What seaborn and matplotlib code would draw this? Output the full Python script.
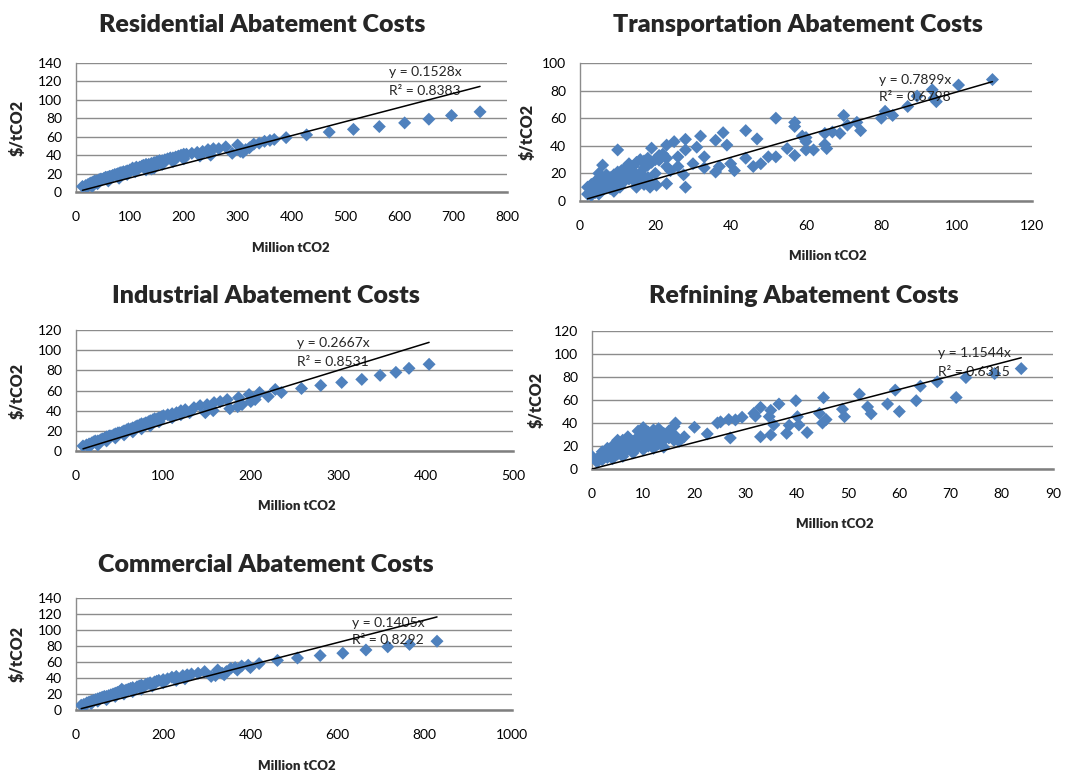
import matplotlib
matplotlib.use("Agg")
import matplotlib.pyplot as plt
import seaborn as sns
import pandas as pd

sns.set_style("white")
plt.rcParams["font.family"] = ["Lato", "DejaVu Sans"]

# ---- Residential ----
res_x = [12, 18, 22, 25, 28, 32, 35, 38, 42, 45, 48, 52, 55, 58, 62, 65, 68, 72, 75, 78,
         82, 85, 88, 92, 95, 100, 105, 108, 112, 118, 122, 125, 130, 135, 140, 145, 150,
         155, 160, 165, 170, 175, 180, 185, 190, 195, 200, 205, 215, 225, 235, 245, 255,
         265, 278, 290, 300, 305, 315, 322, 330, 340, 350, 360, 368, 390, 428, 470, 515,
         563, 610, 655, 697, 750,
         20, 30, 40, 60, 80, 95, 110, 130, 145, 160, 180, 200, 230, 250, 310, 140, 90]
res_y = [6, 7, 8, 9, 10, 11, 12, 12, 13, 14, 14, 15, 16, 16, 17, 17, 18, 19, 19, 20,
         21, 21, 22, 22, 23, 24, 26, 25, 27, 27, 28, 29, 30, 30, 31, 32, 33,
         34, 34, 35, 36, 37, 37, 38, 39, 40, 41, 41, 42, 43, 44, 46, 47,
         47, 49, 42, 51, 44, 46, 48, 52, 53, 55, 56, 57, 59, 62, 65, 68,
         71, 75, 79, 83, 87,
         5, 6, 9, 12, 15, 19, 22, 24, 26, 30, 33, 36, 39, 40, 43, 25, 20]
res_slope, res_r2 = 0.1528, 0.8383

# ---- Transportation ----
tra_x = [10, 6, 52, 57, 57, 57, 55, 70, 44, 47, 38, 39, 36, 36, 32, 31, 33, 33, 25, 28,
         28, 28, 23, 23, 21, 23, 19, 26, 26, 27.5, 30, 37, 40, 41, 44, 46, 48, 50, 52,
         59, 60, 60, 62, 60, 65, 65, 65.5, 67, 69, 71, 73.5, 74.5, 80, 81, 83, 87, 89.5,
         93.5, 94, 94.6, 100.5, 109.5, 14.6, 16.8, 18.6, 20.3, 10.6,
         2, 2, 3, 3, 4, 4, 5, 5, 5, 6, 6, 6, 7, 7, 7, 8, 8, 9, 9, 10, 10, 10, 11, 11,
         12, 12, 12, 13, 13, 14, 14, 15, 15, 16, 16, 17, 17, 18, 18, 19, 20, 20, 21, 22,
         3, 4, 5, 8, 9, 13, 15, 17, 19, 23, 24, 18, 16]
tra_y = [37, 26, 60, 57, 54, 33, 38, 62, 51, 45, 49.5, 40.5, 44, 21, 47, 39, 32, 24, 43, 44.7,
         37, 10, 40.5, 31, 29.6, 12.6, 38.3, 32, 25, 19, 27, 25, 27, 22, 31, 25, 27, 32, 32,
         47, 43, 37, 37, 46, 49, 41, 38, 50, 49, 55, 57, 51, 60, 65, 62, 68.5, 76,
         80.6, 74.5, 72, 84, 88, 13.8, 17.5, 10, 11.4, 10,
         5, 10, 7, 12, 9, 14, 11, 16, 20, 8, 13, 17, 10, 15, 19, 12, 17, 14, 19, 12, 16, 21, 18, 22,
         15, 20, 24, 19, 27, 22, 25, 18, 28, 20, 30, 24, 29, 26, 31, 28, 30, 20, 33, 34,
         4, 6, 5, 9, 7, 16, 10, 12, 13, 25, 22, 17, 14]
tra_slope, tra_r2 = 0.7899, 0.6798

# ---- Industrial ----
ind_x = [8, 12, 15, 18, 20, 22, 25, 28, 30, 33, 35, 38, 40, 43, 45, 48, 50, 53, 55, 58,
         60, 63, 65, 68, 70, 73, 75, 78, 80, 83, 85, 88, 90, 93, 95, 98, 100, 105, 110,
         115, 120, 125, 135, 142, 150, 158, 165, 173, 186, 198, 210, 228, 235, 258, 280,
         304, 327, 348, 366, 381, 404,
         148, 157, 176, 185, 190, 200, 205, 220, 15, 25, 35, 45, 55, 65, 75, 85, 95, 110,
         120, 130]
ind_y = [5, 6, 7, 8, 9, 10, 10, 11, 12, 13, 14, 15, 15, 16, 17, 18, 18, 19, 20, 21,
         22, 22, 23, 24, 25, 26, 27, 27, 28, 29, 30, 31, 32, 32, 33, 34, 35, 36, 37,
         38, 40, 41, 43, 45, 46, 48, 49, 51, 53, 56, 58, 61, 58, 62, 65,
         68, 71, 75, 78, 82, 86,
         38, 40, 42, 44, 46, 49, 51, 54, 4, 6, 10, 13, 16, 19, 22, 25, 29, 33,
         36, 38]
ind_slope, ind_r2 = 0.2667, 0.8531

# ---- Refining ----
ref_x = [0, 16.3, 20, 22.5, 24.5, 25.1, 26.7, 27, 28, 29.3, 31.6, 31.9, 32.9, 32.9, 34.9,
         35.5, 34.9, 34.6, 36.5, 38, 38.5, 39.8, 40.1, 40.4, 42, 44.4, 45, 45.2, 45.7,
         48.9, 49.3, 52.2, 53.8, 54.5, 57.7, 59.2, 60, 63.3, 64.1, 67.4, 71.1, 73, 78.6, 83.8,
         1, 1, 2, 2, 2, 3, 3, 3, 4, 4, 4, 5, 5, 5, 6, 6, 6, 7, 7, 7, 8, 8, 9, 9, 10, 10, 10,
         11, 11, 11, 12, 12, 12, 13, 13, 13, 14, 14, 15, 15, 16, 16, 16, 17, 18, 14, 12,
         10, 8, 6, 4, 9, 7, 5]
ref_y = [11, 40, 36.3, 30.5, 40, 41, 43, 27, 42.7, 45, 48.4, 46, 53.6, 28, 51,
         38.3, 29.7, 45.5, 56.5, 31, 38, 59.4, 45.5, 38.3, 31.7, 48.4, 40, 62, 43,
         52, 45.5, 65, 54, 48, 56.5, 68.6, 50, 59.4, 72, 75.8, 62.2, 79.5, 83, 87.3,
         6, 9, 8, 12, 15, 10, 14, 18, 12, 16, 20, 13, 18, 22, 15, 20, 25, 17, 22, 26, 18, 24,
         20, 28, 22, 30, 36, 20, 26, 32, 24, 30, 34, 22, 28, 35, 25, 31, 27, 33, 30, 37, 25,
         24, 28, 19, 18, 17, 14, 11, 9, 33, 28, 25]
ref_slope, ref_r2 = 1.1544, 0.6315

# ---- Commercial ----
com_x = [12, 18, 25, 30, 35, 40, 45, 50, 55, 60, 65, 70, 75, 80, 85, 90, 95, 100, 105,
         110, 115, 120, 125, 130, 140, 145, 150, 160, 165, 170, 180, 185, 190, 200, 210,
         220, 230, 245, 255, 265, 280, 295, 310, 325, 335, 345, 355, 365, 380, 395, 420,
         462, 508, 560, 612, 665, 715, 765, 828,
         20, 35, 50, 70, 90, 110, 130, 150, 175, 200, 230, 250, 320, 340, 370, 400]
com_y = [6, 7, 9, 10, 11, 12, 13, 14, 15, 16, 17, 17, 18, 19, 20, 21, 22, 23, 26,
         24, 25, 26, 27, 28, 29, 30, 31, 32, 33, 34, 35, 36, 37, 38, 39,
         41, 42, 43, 44, 45, 46, 48, 42, 50, 46, 48, 52, 53, 55, 56, 58,
         62, 65, 68, 71, 75, 79, 82, 86,
         5, 8, 11, 13, 17, 20, 23, 26, 30, 34, 37, 39, 43, 44, 50, 53]
com_slope, com_r2 = 0.1405, 0.8292

W, H = 1085, 772
BLUE = "#4F81BD"
GRID = "#8C8C8C"

panels = [
    dict(title="Residential Abatement Costs", x=res_x, y=res_y, k=res_slope, r2=res_r2,
         xmax=800, xstep=100, ymax=140, ystep=20, box=(76, 63, 507, 192),
         tpos=(262, 25), xlpos=(291, 248), ylx=18, eq=(0.726, 0.93, 0.78)),
    dict(title="Transportation Abatement Costs", x=tra_x, y=tra_y, k=tra_slope, r2=tra_r2,
         xmax=120, xstep=20, ymax=100, ystep=20, box=(580, 63, 1032, 201),
         tpos=(798, 25), xlpos=(828, 256), ylx=528, eq=(0.661, 0.877, 0.754)),
    dict(title="Industrial Abatement Costs", x=ind_x, y=ind_y, k=ind_slope, r2=ind_r2,
         xmax=500, xstep=100, ymax=120, ystep=20, box=(76, 330, 513, 451),
         tpos=(266, 296), xlpos=(297, 506), ylx=18, eq=(0.506, 0.893, 0.736)),
    dict(title="Refnining Abatement Costs", x=ref_x, y=ref_y, k=ref_slope, r2=ref_r2,
         xmax=90, xstep=10, ymax=120, ystep=20, box=(592, 331, 1053, 469),
         tpos=(804, 296), xlpos=(835, 524), ylx=537, eq=(0.75, 0.84, 0.70)),
    dict(title="Commercial Abatement Costs", x=com_x, y=com_y, k=com_slope, r2=com_r2,
         xmax=1000, xstep=200, ymax=140, ystep=20, box=(76, 598, 512, 710),
         tpos=(266, 565), xlpos=(297, 766), ylx=18, eq=(0.633, 0.777, 0.625)),
]

fig = plt.figure(figsize=(W / 100, H / 100), dpi=100)
fig.patch.set_facecolor("white")

for p in panels:
    l, t, r, b = p["box"]
    ax = fig.add_axes([l / W, (H - b) / H, (r - l) / W, (b - t) / H])
    df = pd.DataFrame({"x": p["x"], "y": p["y"]})
    sns.scatterplot(data=df, x="x", y="y", marker="D", s=44, color=BLUE,
                    edgecolor="none", ax=ax, zorder=3, legend=False)
    # linear trend through the origin
    x0, x1 = min(p["x"]), max(p["x"])
    trend = pd.DataFrame({"x": [x0, x1], "y": [p["k"] * x0, p["k"] * x1]})
    sns.lineplot(data=trend, x="x", y="y", color="black", linewidth=1.1, ax=ax, zorder=4)

    ax.set_xlim(0, p["xmax"])
    ax.set_ylim(0, p["ymax"])
    ax.set_xticks(range(0, p["xmax"] + 1, p["xstep"]))
    ax.set_yticks(range(0, p["ymax"] + 1, p["ystep"]))
    ax.yaxis.grid(True, color=GRID, linewidth=1.0)
    ax.set_axisbelow(True)
    for s in ("top", "right"):
        ax.spines[s].set_visible(False)
    ax.spines["left"].set_color(GRID)
    ax.spines["left"].set_linewidth(1.0)
    ax.spines["bottom"].set_color("#7F7F7F")
    ax.spines["bottom"].set_linewidth(1.8)
    ax.tick_params(axis="both", length=0, labelsize=10, colors="black")
    ax.tick_params(axis="x", pad=14)
    ax.tick_params(axis="y", pad=10)
    ax.set_xlabel("")
    ax.set_ylabel("")

    ex, ey1, ey2 = p["eq"]
    ax.text(ex, ey1, f"y = {p['k']:.4f}x", transform=ax.transAxes, fontsize=10,
            va="center", ha="left")
    ax.text(ex, ey2, f"R² = {p['r2']:.4f}", transform=ax.transAxes, fontsize=10,
            va="center", ha="left")

    tx, ty = p["tpos"]
    fig.text(tx / W, 1 - ty / H, p["title"], fontsize=18, fontweight="heavy",
             ha="center", va="center")
    lx, ly = p["xlpos"]
    fig.text(lx / W, 1 - ly / H, "Million tCO2", fontsize=9.5, fontweight="heavy",
             ha="center", va="center")
    fig.text(p["ylx"] / W, 1 - ((t + b) / 2) / H, "$/tCO2", fontsize=11.5,
             fontweight="heavy", rotation=90, ha="center", va="center")

fig.savefig("out.png", dpi=100, facecolor="white")
